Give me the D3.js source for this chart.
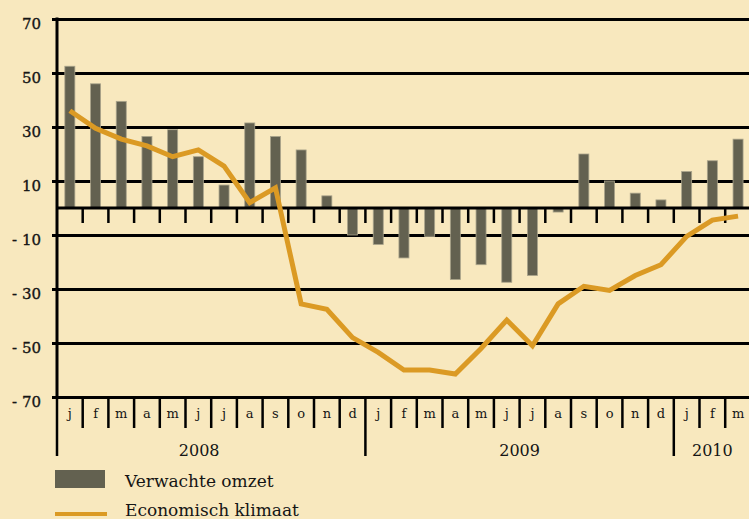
<!DOCTYPE html>
<html>
<head>
<meta charset="utf-8">
<script src="https://cdn.jsdelivr.net/npm/d3@7/dist/d3.min.js"></script>
<style>
body { margin: 0; background: #f8e8be; }
svg { display: block; }
text { font-family: "DejaVu Serif", serif; fill: #151515; }
</style>
</head>
<body>
<svg id="chart" width="749" height="519"></svg>
<script>
// maanden jan 2008 - mrt 2010
var months = ["j","f","m","a","m","j","j","a","s","o","n","d",
              "j","f","m","a","m","j","j","a","s","o","n","d",
              "j","f","m"];
var years = ["2008", "2009", "2010"];
var yearStart = [0, 12, 24];
var yearCount = [12, 12, 3];

// Verwachte omzet (staven)
var omzet = [52.5, 46, 39.5, 26.5, 29, 19, 8.5, 31.5, 26.5, 21.5, 4.5, -10,
             -13.5, -18.5, -10.5, -26.5, -21, -27.5, -25, -1.5, 20, 10, 5.5, 3,
             13.5, 17.5, 25.5];
// Economisch klimaat (lijn)
var klimaat = [36, 29.5, 25.5, 23, 19, 21.5, 15.5, 2, 7.5, -35.5, -37.5, -48,
               -53.5, -60, -60, -61.5, -52, -41.5, -51, -35.5, -29, -30.5, -25, -21,
               -10.5, -4.5, -3];
var yTicks = [70, 50, 30, 10, -10, -30, -50, -70];

var svg = d3.select("#chart");
var W = 749;
var left = 57, step = 25.7;
var idx = d3.range(months.length);

var x = d3.scaleBand().domain(idx).range([left, left + step * months.length]);
var xBar = d3.scaleBand().domain(idx).range(x.range()).paddingInner(0.61).paddingOuter(0.305);
var y = d3.scaleLinear().domain([-70, 70]).range([397, 19]);

var barColor = "#636150";
var lineColor = "#db9a24";

// rasterlijnen + labels
var yAxis = svg.append("g")
    .attr("transform", "translate(" + left + ",0)")
    .call(d3.axisLeft(y).tickValues(yTicks).tickSize(-(W - left)).tickPadding(16)
        .tickFormat(function(d) { return d < 0 ? "- " + Math.abs(d) : d; }));
yAxis.select(".domain").remove();
yAxis.selectAll(".tick line").attr("x1", -5).attr("stroke", "#000").attr("stroke-width", 3);
yAxis.selectAll(".tick text").attr("dy", "0.6em").style("font-size", "15px")
    .style("font-family", "DejaVu Serif").attr("fill", "#151515")
    .attr("stroke", "#151515").attr("stroke-width", 0.35);

// staven
svg.append("g").selectAll("rect")
    .data(idx).enter().append("rect")
    .attr("x", function(i) { return xBar(i); })
    .attr("width", xBar.bandwidth())
    .attr("y", function(i) { return y(Math.max(0, omzet[i])); })
    .attr("height", function(i) { return Math.abs(y(omzet[i]) - y(0)); })
    .attr("fill", barColor)
    .attr("stroke", "#aaa48b")
    .attr("stroke-width", 0.8);

// nullijn en linker as
svg.append("line").attr("x1", left).attr("x2", W).attr("y1", y(0)).attr("y2", y(0))
    .attr("stroke", "#000").attr("stroke-width", 3);
svg.append("line").attr("x1", left).attr("x2", left).attr("y1", y(70) - 1.5).attr("y2", y(-70))
    .attr("stroke", "#000").attr("stroke-width", 3);

// maandstreepjes onder nullijn
svg.append("g").selectAll("line")
    .data(d3.range(1, months.length)).enter().append("line")
    .attr("x1", function(i) { return x(i); }).attr("x2", function(i) { return x(i); })
    .attr("y1", y(0)).attr("y2", y(0) + 15)
    .attr("stroke", "#000").attr("stroke-width", 2.5);

// onderste as: maanden
var bottom = y(-70);
svg.append("g").selectAll("line")
    .data(d3.range(0, months.length)).enter().append("line")
    .attr("x1", function(i) { return x(i); }).attr("x2", function(i) { return x(i); })
    .attr("y1", bottom)
    .attr("y2", function(i) { return yearStart.indexOf(i) >= 0 ? bottom + 59 : bottom + 31; })
    .attr("stroke", "#000").attr("stroke-width", 2.5);

svg.append("g").selectAll("text")
    .data(idx).enter().append("text")
    .attr("x", function(i) { return x(i) + x.bandwidth() / 2; })
    .attr("y", 418)
    .attr("text-anchor", "middle")
    .style("font-size", "13px")
    .text(function(i) { return months[i]; });

svg.append("g").selectAll("text")
    .data(years).enter().append("text")
    .attr("x", function(d, k) { return x(yearStart[k]) + step * yearCount[k] / 2 - (k == 0 ? 12 : 0); })
    .attr("y", 456)
    .attr("text-anchor", "middle")
    .style("font-size", "16px")
    .text(function(d) { return d; });

// lijn
var line = d3.line()
    .x(function(i) { return x(i) + x.bandwidth() / 2; })
    .y(function(i) { return y(klimaat[i]); });
svg.append("path").datum(idx)
    .attr("d", line)
    .attr("fill", "none")
    .attr("stroke", lineColor)
    .attr("stroke-width", 5)
    .attr("stroke-linejoin", "miter");

// legenda
svg.append("rect").attr("x", 55).attr("y", 470).attr("width", 50).attr("height", 18)
    .attr("fill", barColor);
svg.append("text").attr("x", 125).attr("y", 487).style("font-size", "17px").text("Verwachte omzet");
svg.append("line").attr("x1", 55).attr("x2", 107).attr("y1", 514).attr("y2", 514)
    .attr("stroke", lineColor).attr("stroke-width", 4);
svg.append("text").attr("x", 125).attr("y", 516).style("font-size", "17px").text("Economisch klimaat");
</script>
</body>
</html>
